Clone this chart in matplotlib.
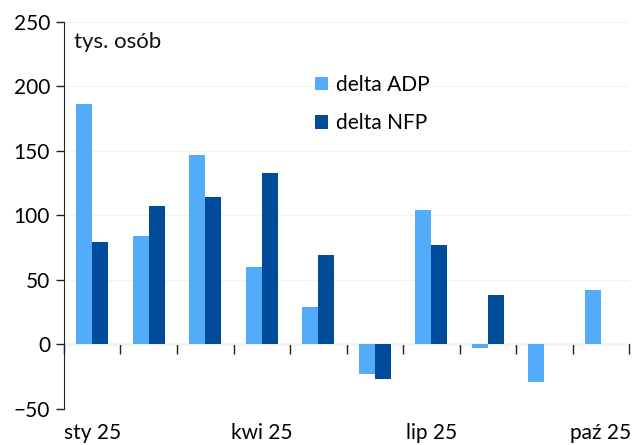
import matplotlib
matplotlib.use("Agg")
import matplotlib.pyplot as plt
import numpy as np

months = ["sty 25", "lut 25", "mar 25", "kwi 25", "maj 25", "cze 25",
          "lip 25", "sie 25", "wrz 25", "paź 25"]
adp = [186, 84, 147, 60, 29, -23, 104, -3, -29, 42]
nfp = [79, 107, 114, 133, 69, -27, 77, 38, np.nan, np.nan]
shown_labels = [0, 3, 6, 9]

c_adp = "#52ACF9"
c_nfp = "#004C9A"

plt.rcParams['font.family'] = ['Lato', 'DejaVu Sans']

fig = plt.figure(figsize=(6.33, 4.45), dpi=100)
ax = fig.add_axes([0.101, 0.081, 0.893, 0.870])

x = np.arange(len(months))
w = 0.285
ax.bar(x - w / 2, adp, width=w, color=c_adp, label="delta ADP", zorder=3)
ax.bar(x + w / 2, nfp, width=w, color=c_nfp, label="delta NFP", zorder=3)

ax.set_xlim(-0.5, len(months) - 0.5)
ax.set_ylim(-50, 250)
ax.set_yticks(np.arange(-50, 251, 50))
ax.yaxis.grid(True, color="#f2f2f2", linewidth=0.8, zorder=0)

for s in ["top", "right", "bottom"]:
    ax.spines[s].set_visible(False)
ax.spines["left"].set_color("#222222")
ax.tick_params(axis="y", direction="out", length=6, width=1, color="#222222",
               labelsize=15, pad=4)

ax.set_xticks([x[i] for i in shown_labels])
ax.set_xticklabels([months[i] for i in shown_labels])
ax.tick_params(axis="x", length=0, labelsize=15, pad=10)

# zero line with boundary ticks
sec = ax.secondary_xaxis(0, transform=ax.transData)
sec.spines["bottom"].set_color("#222222")
sec.set_xticks(np.arange(-0.5, len(months), 1.0))
sec.tick_params(axis="x", direction="out", length=7, width=1, color="#222222",
                labelbottom=False)

ax.text(0.017, 0.948, "tys. osób", transform=ax.transAxes, fontsize=16,
        ha="left", va="center", color="#111111")

leg = ax.legend(loc="upper left", bbox_to_anchor=(0.43, 0.885), frameon=False,
                fontsize=15, handlelength=0.6, handleheight=0.6,
                handletextpad=0.4, labelspacing=0.9, borderaxespad=0)

fig.savefig("out.png", dpi=100)
